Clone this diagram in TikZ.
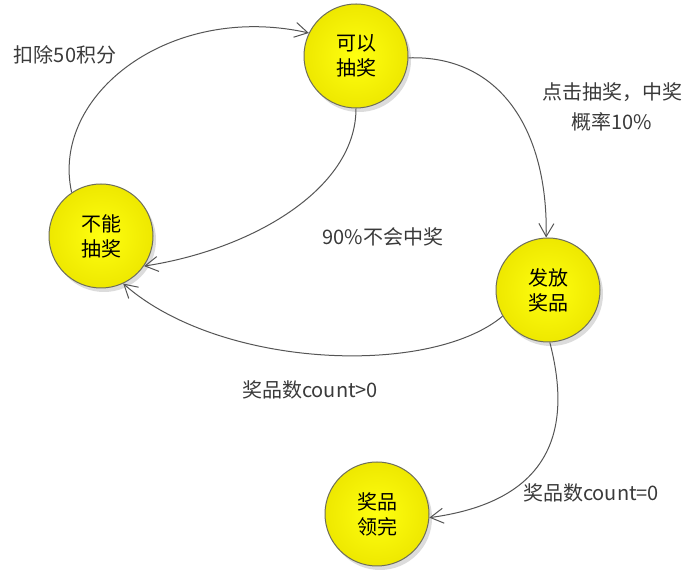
\documentclass[tikz,border=0pt]{standalone}
\usepackage{fontspec}
\setmainfont{Noto Sans CJK SC}
\usetikzlibrary{arrows.meta,shadows}
\definecolor{edgecol}{HTML}{555555}
\definecolor{nodeyelin}{HTML}{FFFF10}
\definecolor{nodeyelout}{HTML}{EEE800}
\definecolor{rimcol}{HTML}{6E6E5A}
\definecolor{labcol}{HTML}{3A3A3A}
\tikzset{
  state/.style={circle, draw=rimcol, line width=1pt, inner color=nodeyelin, outer color=nodeyelout, minimum size=104pt,
    inner sep=0pt, align=center, font=\fontsize{20}{25}\selectfont, text=black,
    general shadow={fill=black!30, shadow xshift=3pt, shadow yshift=-4pt, opacity=0.45}},
  conn/.style={draw=edgecol, line width=1pt, -{Straight Barb[length=13pt,width=15pt,line width=1pt]}},
  lab/.style={font=\fontsize{20}{30}\selectfont, text=labcol, align=center}
}
\begin{document}
\begin{tikzpicture}[x=1pt,y=1pt]
\useasboundingbox (0,0) rectangle (698,577);
\fill[white] (0,0) rectangle (698,577);
\node[state] (K) at (356,521) {可以\\抽奖};
\node[state] (N) at (101,341) {不能\\抽奖};
\node[state] (F) at (548,287) {发放\\奖品};
\node[state] (W) at (377,63) {奖品\\领完};

\draw[conn] (N.124) .. controls (50,482) and (170,575) .. (K.154);
\draw[conn] (K.-2) .. controls (500,522) and (548,447) .. (F.92);
\draw[conn] (K.-90) .. controls (356,387) and (250,327) .. (N.-35);
\draw[conn] (F.-150) .. controls (430,200) and (220,208) .. (N.-65);
\draw[conn] (F.-88) .. controls (570,157) and (560,77) .. (W.-4);

\node[lab] (l1) at (65,522) {扣除50积分};
\node[lab] (l2) at (612,470) {点击抽奖，中奖\\概率10\%};
\node[lab] (l3) at (383,340) {90\%不会中奖};
\node[lab] (l4) at (310,187) {奖品数count>0};
\node[lab] (l5) at (591,84) {奖品数count=0};
\end{tikzpicture}
\end{document}
